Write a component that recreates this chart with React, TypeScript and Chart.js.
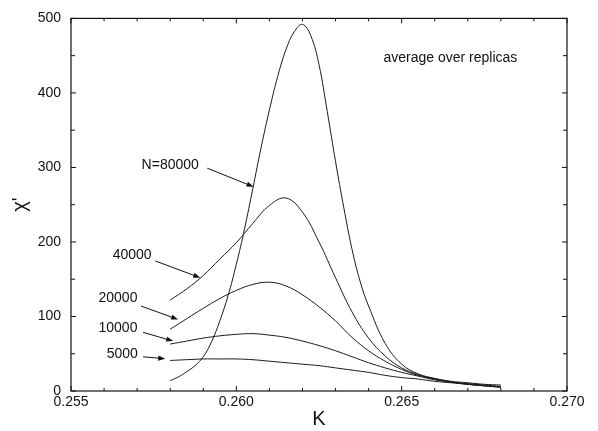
import React, { useEffect, useRef } from "react";
import { Chart, registerables } from "chart.js";

Chart.register(...registerables);

const FONT = '"Liberation Sans", Arial, Helvetica, sans-serif';

// ---- data ----
const kCommon = [
  0.258, 0.2585, 0.259, 0.2595, 0.26, 0.2605, 0.261, 0.2615, 0.262, 0.2625,
  0.263, 0.2635, 0.264, 0.2645, 0.265, 0.2655, 0.266, 0.2665, 0.267, 0.2675, 0.268,
];
const chi5000 = [41, 42, 43, 43, 43, 42, 40, 38, 36, 34, 31, 28, 25, 21, 18, 16, 13, 11, 9, 7, 5];
const chi10000 = [63, 67, 71, 74, 76, 77, 75, 72, 67, 61, 54, 46, 38, 31, 25, 20, 15, 12, 9, 7, 5];
const chi20000 = [83, 97, 111, 124, 135, 143, 146, 141, 129, 113, 94, 72, 54, 40, 29, 21, 16, 12, 9, 7, 6];
const chi40000 = [122, 137, 155, 177, 199, 225, 249, 259, 240, 200, 152, 106, 71, 47, 31, 22, 16, 12, 10, 8, 6];

const k80000 = [
  0.258, 0.25825, 0.2585, 0.25875, 0.259, 0.25925, 0.2595, 0.25975, 0.26, 0.26025,
  0.2605, 0.26075, 0.261, 0.26125, 0.2615, 0.26175, 0.262, 0.26225, 0.2625, 0.26275,
  0.263, 0.26325, 0.2635, 0.26375, 0.264, 0.2645, 0.265, 0.2655, 0.266, 0.2665,
  0.267, 0.2675, 0.268,
];
const chi80000 = [
  14, 19, 26, 34, 46, 66, 94, 128, 170, 218,
  272, 327, 377, 422, 458, 482, 492, 477, 438, 375,
  308, 246, 190, 146, 114, 64, 36, 23, 17, 13,
  11, 9, 8,
];

const xMajorTicks = [0.255, 0.26, 0.265, 0.27];
const xMinorTicks = [0.256, 0.257, 0.258, 0.259, 0.261, 0.262, 0.263, 0.264, 0.266, 0.267, 0.268, 0.269];
const yMajorTicks = [0, 100, 200, 300, 400, 500];
const yMinorTicks = [50, 150, 250, 350, 450];

// annotation labels (data coordinates)
const labelTexts = ["N=80000", "40000", "20000", "10000", "5000"];
const labelK = [0.258, 0.25685, 0.25642, 0.25642, 0.25655];
const labelChi = [303, 182, 125, 85, 50];
const arrowFromK = [0.25912, 0.25755, 0.25712, 0.25718, 0.25718];
const arrowFromChi = [299, 174.5, 114, 78.7, 45.9];
const arrowToK = [0.26052, 0.25891, 0.25824, 0.25809, 0.25785];
const arrowToChi = [274, 152, 96, 67, 43.3];
const noteText = "average over replicas";
const noteK = 0.26445;
const noteChi = 447;

const toXY = (ks: number[], vs: number[]) => ks.map((k, i) => ({ x: k, y: vs[i] }));

const framePlugin = {
  id: "framePlugin",
  afterDraw(chart: any) {
    const { ctx, chartArea, scales } = chart;
    const xs = scales.x;
    const ys = scales.y;
    const { left, right, top, bottom } = chartArea;
    ctx.save();
    ctx.strokeStyle = "#111";
    ctx.lineWidth = 1.2;
    ctx.strokeRect(left, top, right - left, bottom - top);
    ctx.lineWidth = 1;
    const drawX = (vals: number[], len: number) => {
      vals.forEach((v) => {
        const px = xs.getPixelForValue(v);
        ctx.beginPath();
        ctx.moveTo(px, bottom);
        ctx.lineTo(px, bottom - len);
        ctx.moveTo(px, top);
        ctx.lineTo(px, top + len);
        ctx.stroke();
      });
    };
    const drawY = (vals: number[], len: number) => {
      vals.forEach((v) => {
        const py = ys.getPixelForValue(v);
        ctx.beginPath();
        ctx.moveTo(left, py);
        ctx.lineTo(left + len, py);
        ctx.moveTo(right, py);
        ctx.lineTo(right - len, py);
        ctx.stroke();
      });
    };
    drawX(xMajorTicks, 5);
    drawX(xMinorTicks, 3);
    drawY(yMajorTicks, 5);
    drawY(yMinorTicks, 4);

    ctx.fillStyle = "#111";
    ctx.font = `14px ${FONT}`;
    ctx.textBaseline = "middle";
    ctx.textAlign = "center";
    labelTexts.forEach((t, i) => {
      ctx.fillText(t, xs.getPixelForValue(labelK[i]), ys.getPixelForValue(labelChi[i]));
      const x0 = xs.getPixelForValue(arrowFromK[i]);
      const y0 = ys.getPixelForValue(arrowFromChi[i]);
      const x1 = xs.getPixelForValue(arrowToK[i]);
      const y1 = ys.getPixelForValue(arrowToChi[i]);
      const ang = Math.atan2(y1 - y0, x1 - x0);
      const hl = 7;
      const hw = 2.6;
      ctx.beginPath();
      ctx.moveTo(x0, y0);
      ctx.lineTo(x1 - Math.cos(ang) * hl * 0.8, y1 - Math.sin(ang) * hl * 0.8);
      ctx.stroke();
      ctx.beginPath();
      ctx.moveTo(x1, y1);
      ctx.lineTo(x1 - Math.cos(ang) * hl - Math.sin(ang) * hw, y1 - Math.sin(ang) * hl + Math.cos(ang) * hw);
      ctx.lineTo(x1 - Math.cos(ang) * hl + Math.sin(ang) * hw, y1 - Math.sin(ang) * hl - Math.cos(ang) * hw);
      ctx.closePath();
      ctx.fill();
    });
    ctx.textAlign = "left";
    ctx.fillText(noteText, xs.getPixelForValue(noteK), ys.getPixelForValue(noteChi));
    ctx.restore();
  },
};

export default function App() {
  const ref = useRef<HTMLCanvasElement | null>(null);
  useEffect(() => {
    if (!ref.current) return;
    const lineDs = (label: string, data: any[]) => ({
      label,
      data,
      borderColor: "#1a1a1a",
      borderWidth: 1,
      pointRadius: 0,
      fill: false,
      showLine: true,
      tension: 0.4,
    });
    const chart = new Chart(ref.current, {
      type: "line",
      data: {
        datasets: [
          lineDs("N=80000", toXY(k80000, chi80000)),
          lineDs("40000", toXY(kCommon, chi40000)),
          lineDs("20000", toXY(kCommon, chi20000)),
          lineDs("10000", toXY(kCommon, chi10000)),
          lineDs("5000", toXY(kCommon, chi5000)),
        ],
      },
      options: {
        animation: false,
        responsive: false,
        maintainAspectRatio: false,
        layout: { padding: { top: 10, right: 31, left: 0, bottom: 0 } },
        plugins: { legend: { display: false }, tooltip: { enabled: false } },
        scales: {
          x: {
            type: "linear",
            min: 0.255,
            max: 0.27,
            afterBuildTicks: (s: any) => {
              s.ticks = xMajorTicks.map((v) => ({ value: v }));
            },
            afterFit: (s: any) => {
              s.height = 40;
            },
            grid: { display: false, drawTicks: false },
            border: { display: false },
            ticks: {
              padding: 3,
              color: "#111",
              font: { family: FONT, size: 14 },
              maxRotation: 0,
              autoSkip: false,
              callback: (v: any) => Number(v).toFixed(3),
            },
            title: {
              display: true,
              text: "K",
              color: "#111",
              font: { family: FONT, size: 20 },
              padding: { top: 2, bottom: 0 },
            },
          },
          y: {
            type: "linear",
            min: 0,
            max: 500,
            afterBuildTicks: (s: any) => {
              s.ticks = yMajorTicks.map((v) => ({ value: v }));
            },
            afterFit: (s: any) => {
              s.width = 71;
            },
            grid: { display: false, drawTicks: false },
            border: { display: false },
            ticks: {
              padding: 10,
              color: "#111",
              font: { family: FONT, size: 14 },
              callback: (v: any) => String(v),
            },
            title: {
              display: true,
              text: "χ'",
              color: "#111",
              font: { family: FONT, size: 20 },
              padding: { top: 8, bottom: 0 },
            },
          },
        },
      },
      plugins: [framePlugin],
    });
    return () => chart.destroy();
  }, []);
  return (
    <div style={{ position: "fixed", left: 0, top: 0, width: 598, height: 431, background: "#fff" }}>
      <canvas ref={ref} width={598} height={431} style={{ width: 598, height: 431, display: "block" }} />
    </div>
  );
}
